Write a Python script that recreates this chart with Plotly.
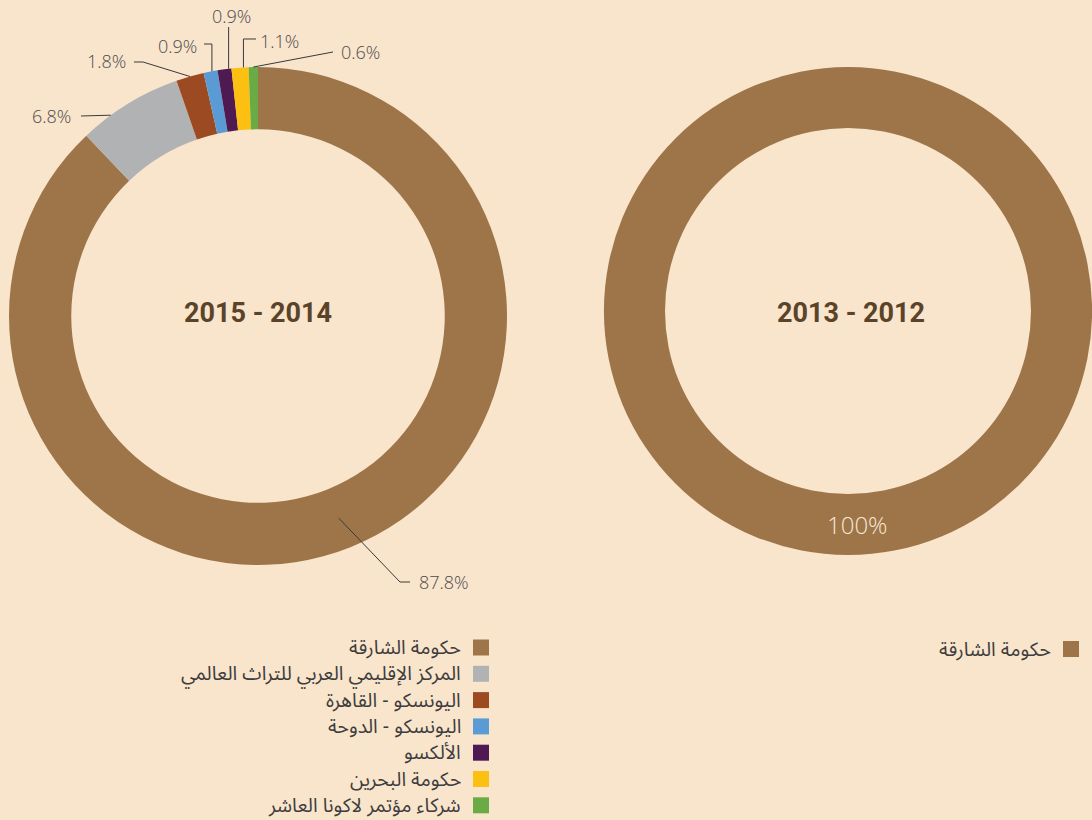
import math
import plotly.graph_objects as go

# ---- data -------------------------------------------------------------
categories_2014 = [
    "حكومة الشارقة",
    "المركز الإقليمي العربي للتراث العالمي",
    "اليونسكو - القاهرة",
    "اليونسكو - الدوحة",
    "الألكسو",
    "حكومة البحرين",
    "شركاء مؤتمر لاكونا العاشر",
]
share_2014 = [87.8, 6.8, 1.8, 0.9, 0.9, 1.1, 0.6]

categories_2012 = ["حكومة الشارقة"]
share_2012 = [100]

period_left = "2015 - 2014"
period_right = "2013 - 2012"

slice_colors = ["#9e7549", "#b1b2b4", "#9b4a21", "#5b9bd5", "#4f1a52", "#fbc012", "#6aab45"]

# ---- page geometry (pixels) ---------------------------------------------
W, H = 1092, 820
BG = "#f9e4cc"


def px(x):
    return x / W


def py(y):
    return 1 - y / H


HOLE = 0.75
# left ring
L_CX, L_CY, L_R = 258, 316, 249
# right ring (domain runs to the page edge)
R_X0, R_X1, R_CY, R_H = 604, 1092, 311, 490
R_CX = (R_X0 + R_X1) / 2
R_R = min(R_X1 - R_X0, R_H) / 2

fig = go.Figure()

fig.add_trace(go.Pie(
    labels=categories_2014, values=share_2014,
    marker=dict(colors=slice_colors, line=dict(width=0)),
    hole=HOLE, sort=False, direction="clockwise", rotation=0,
    textinfo="none", hoverinfo="label+percent", showlegend=False,
    domain=dict(x=[px(L_CX - L_R), px(L_CX + L_R)], y=[py(L_CY + L_R), py(L_CY - L_R)]),
))
fig.add_trace(go.Pie(
    labels=categories_2012, values=share_2012,
    marker=dict(colors=slice_colors[:1], line=dict(width=0)),
    hole=HOLE, sort=False, direction="clockwise", rotation=0,
    textinfo="none", hoverinfo="label+percent", showlegend=False,
    domain=dict(x=[px(R_X0), 1.0], y=[py(R_CY + R_H / 2), py(R_CY - R_H / 2)]),
))

annotations = []
shapes = []

# ---- value labels with leader lines (left ring) ---------------------------
# per slice: text position, text anchor, line start, elbow rule, position inside slice, radius
label_layout = [
    dict(tx=417, ty=582, xa="left", sx=410, sy=582, elbow=(400, 582), frac=0.5, ring="mid"),
    dict(tx=73, ty=116, xa="right", sx=81, sy=116, elbow=None, frac=0.3, ring="outer"),
    dict(tx=128, ty=61, xa="right", sx=134, sy=62, elbow=(143, 62), frac=0.5, ring="outer"),
    dict(tx=199, ty=46, xa="right", sx=204, sy=44, elbow="vert", frac=0.6, ring="outer"),
    dict(tx=231, ty=16, xa="center", sx=None, sy=27, elbow=None, frac=0.8, ring="outer"),
    dict(tx=258, ty=41, xa="left", sx=256, sy=39, elbow="vert", frac=0.7, ring="outer"),
    dict(tx=339, ty=52, xa="left", sx=333, sy=52, elbow=None, frac=0.5, ring="outer"),
]

total = sum(share_2014)
cum = 0.0
line_col = "#3a3a3a"
for val, lay in zip(share_2014, label_layout):
    f = (cum + val * lay["frac"]) / total
    cum += val
    ang = 2 * math.pi * f
    r = L_R if lay["ring"] == "outer" else L_R * (1 + HOLE) / 2
    ptx = L_CX + r * math.sin(ang)
    pty = L_CY - r * math.cos(ang)
    sx = lay["sx"] if lay["sx"] is not None else ptx
    pts = [(sx, lay["sy"])]
    if lay["elbow"] == "vert":
        pts.append((ptx, lay["sy"]))
    elif lay["elbow"] is not None:
        pts.append(lay["elbow"])
    pts.append((ptx, pty))
    path = "M " + " L ".join(f"{px(x):.5f},{py(y):.5f}" for x, y in pts)
    shapes.append(dict(type="path", xref="paper", yref="paper", path=path,
                       line=dict(color=line_col, width=1)))
    annotations.append(dict(
        x=px(lay["tx"]), y=py(lay["ty"]), xref="paper", yref="paper",
        text=f"{val}%", showarrow=False, xanchor=lay["xa"], yanchor="middle",
        font=dict(family="Open Sans", size=18, color="#4d4d4d", weight=300),
    ))

# value on the right ring
ang = math.radians(177.5)
r_mid = R_R * (1 + HOLE) / 2
annotations.append(dict(
    x=px(R_CX + r_mid * math.sin(ang)), y=py(R_CY - r_mid * math.cos(ang)),
    xref="paper", yref="paper", text=f"{share_2012[0]}%", showarrow=False,
    xanchor="center", yanchor="middle",
    font=dict(family="Open Sans", size=24, color="#f6e6d2", weight=300),
))

# ---- centre titles ------------------------------------------------------
title_font = dict(family="Roboto, sans-serif", size=27, color="#5a4329", weight="bold")
annotations.append(dict(x=px(L_CX), y=py(L_CY - 3), xref="paper", yref="paper", text=period_left,
                        showarrow=False, xanchor="center", yanchor="middle", font=title_font))
annotations.append(dict(x=px(R_CX + 3), y=py(R_CY + 2), xref="paper", yref="paper", text=period_right,
                        showarrow=False, xanchor="center", yanchor="middle", font=title_font))

# ---- legends (swatch on the right, text to its left) -----------------------
legend_font = dict(family="Noto Sans Arabic, DejaVu Sans", size=19.5, color="#3d3d3d")


def add_legend(names, colors, sw_x0, y0, step):
    for i, (name, col) in enumerate(zip(names, colors)):
        yc = y0 + i * step
        shapes.append(dict(type="rect", xref="paper", yref="paper",
                           x0=px(sw_x0), x1=px(sw_x0 + 16), y0=py(yc + 8), y1=py(yc - 8),
                           fillcolor=col, line=dict(width=0)))
        annotations.append(dict(x=px(sw_x0 - 10), y=py(yc), xref="paper", yref="paper",
                                text=name, showarrow=False, xanchor="right", yanchor="middle",
                                font=legend_font))


add_legend(categories_2014, slice_colors, 473, 647.5, 26.3)
add_legend(categories_2012, slice_colors[:1], 1063, 649, 26.3)

fig.update_layout(
    width=W, height=H,
    margin=dict(l=0, r=0, t=0, b=0),
    paper_bgcolor=BG, plot_bgcolor=BG,
    annotations=annotations, shapes=shapes,
    showlegend=False,
)

fig.write_html("out.html")
